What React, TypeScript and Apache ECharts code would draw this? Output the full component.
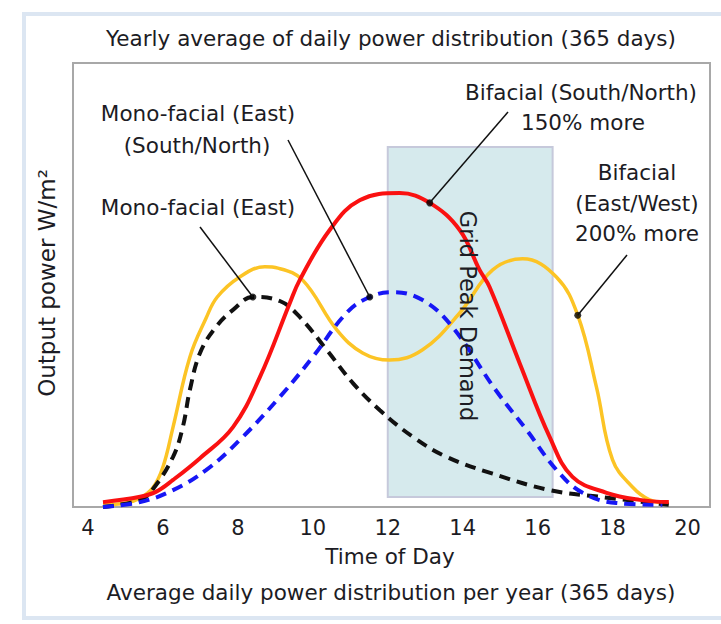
import React, { useEffect, useRef } from "react";
import * as echarts from "echarts";

// Hours (x) and relative output (y, 0-100)
const yellowHours = [4.4, 5.0, 5.39, 5.73, 6.0, 6.27, 6.72, 7.15, 7.45, 8.05, 8.72, 9.07, 9.73, 10.64, 11.33, 12.05, 12.93, 13.92, 14.8, 15.6, 16.5, 17.07, 17.57, 18.0, 18.53, 18.99, 19.5];
const yellowValues = [0.5, 0.9, 2.0, 4.3, 9.0, 18.0, 33.8, 42.5, 47.3, 51.8, 54.1, 53.8, 51.1, 39.9, 34.7, 33.1, 35.4, 43.7, 53.4, 55.9, 51.8, 43.2, 27.0, 10.6, 4.5, 1.6, 0.9];

const blackHours = [4.4, 5.39, 5.73, 6.27, 6.53, 6.72, 6.99, 7.41, 7.87, 8.4, 9.12, 9.65, 10.37, 11.07, 11.79, 12.67, 13.57, 14.8, 16.32, 17.65, 19.5];
const blackValues = [0, 1.6, 4.0, 11.3, 18.0, 26.4, 34.7, 40.5, 44.4, 47.3, 46.4, 42.8, 35.4, 27.9, 21.8, 15.8, 11.3, 7.5, 3.8, 2.3, 0.5];

const redHours = [4.4, 5.39, 5.81, 6.27, 6.99, 7.87, 8.59, 9.39, 9.65, 10.45, 11.25, 12.32, 13.12, 13.92, 14.45, 14.72, 15.52, 16.32, 16.93, 17.84, 18.72, 19.5];
const redValues = [1.1, 2.3, 3.4, 6.1, 11.0, 18.0, 29.3, 46.0, 51.1, 62.4, 69.1, 70.7, 68.5, 62.4, 53.4, 49.5, 32.4, 15.8, 6.8, 3.2, 1.6, 1.1];

const blueHours = [4.4, 5.39, 6.27, 7.15, 8.05, 9.12, 10.0, 10.9, 11.52, 12.13, 12.93, 13.73, 14.85, 15.71, 16.51, 17.2, 18.1, 19.33];
const blueValues = [0, 1.1, 3.8, 8.3, 15.1, 24.8, 33.8, 43.7, 47.3, 48.4, 46.6, 40.5, 26.7, 17.3, 8.3, 3.2, 0.9, 0.5];

const xTickLabels = [4, 6, 8, 10, 12, 14, 16, 18, 20];
const peakDemandHours = [12, 16.4];
const peakDemandLevels = [2.25, 81.1];

// marker indices (where the leader lines touch the curves)
const blackMarkerIdx = 9;
const blueMarkerIdx = 8;
const redMarkerIdx = 12;
const yellowMarkerIdx = 21;

const titleText = "Yearly average of daily power distribution (365 days)";
const xAxisTitle = "Time of Day";
const bottomText = "Average daily power distribution per year (365 days)";
const yAxisTitle = "Output power W/m²";
const peakText = "Grid Peak Demand";

const zip = (xs: number[], ys: number[]) => xs.map((x, i) => [x, ys[i]]);

const FONT = "'DejaVu Sans'";
const TXT = "#1c1c24";

export default function App() {
  const ref = useRef<HTMLDivElement>(null);
  useEffect(() => {
    if (!ref.current) return;
    const chart = echarts.init(ref.current, undefined, { renderer: "svg" });
    const yellow = zip(yellowHours, yellowValues);
    const black = zip(blackHours, blackValues);
    const red = zip(redHours, redValues);
    const blue = zip(blueHours, blueValues);
    const markers = [black[blackMarkerIdx], blue[blueMarkerIdx], red[redMarkerIdx], yellow[yellowMarkerIdx]];
    chart.setOption({
      animation: false,
      backgroundColor: "#ffffff",
      grid: {
        left: 73,
        top: 63,
        width: 637,
        height: 444,
        show: true,
        borderColor: "#a8a8a8",
        borderWidth: 2,
        backgroundColor: "#ffffff",
      },
      xAxis: {
        type: "value",
        min: 3.6,
        max: 20.6,
        axisLine: { show: false },
        axisTick: { show: false },
        splitLine: { show: false },
        axisLabel: {
          customValues: xTickLabels,
          fontSize: 21,
          fontFamily: "DejaVu Sans",
          color: TXT,
          margin: 10,
        },
      },
      yAxis: {
        type: "value",
        min: 0,
        max: 100,
        axisLine: { show: false },
        axisTick: { show: false },
        splitLine: { show: false },
        axisLabel: { show: false },
      },
      series: [
        {
          type: "line",
          data: [],
          silent: true,
          markArea: {
            silent: true,
            itemStyle: { color: "#d6eaed", borderColor: "#c6c9db", borderWidth: 2 },
            data: [[
              { coord: [peakDemandHours[0], peakDemandLevels[0]] },
              { coord: [peakDemandHours[1], peakDemandLevels[1]] },
            ]],
          },
        },
        {
          name: "Bifacial (East/West)",
          type: "line",
          data: yellow,
          smooth: 0.4,
          showSymbol: false,
          lineStyle: { color: "#fcc425", width: 3.5 },
        },
        {
          name: "Mono-facial (East)",
          type: "line",
          data: black,
          smooth: 0.4,
          showSymbol: false,
          lineStyle: { color: "#111111", width: 4, type: [11, 7] },
        },
        {
          name: "Mono-facial (South/North)",
          type: "line",
          data: blue,
          smooth: 0.4,
          showSymbol: false,
          lineStyle: { color: "#1717f5", width: 4, type: [11, 7] },
        },
        {
          name: "Bifacial (South/North)",
          type: "line",
          data: red,
          smooth: 0.4,
          showSymbol: false,
          lineStyle: { color: "#fa1111", width: 4 },
        },
        {
          type: "scatter",
          data: markers,
          symbolSize: 7,
          itemStyle: { color: "#000000" },
          z: 5,
        },
      ],
    });

    const px = (p: number[]) => chart.convertToPixel({ gridIndex: 0 }, p) as number[];
    const [bm, um, rm, ym] = markers.map(px);

    const text = (t: string, x: number, y: number, size = 21.5, extra: any = {}) => ({
      type: "text",
      x,
      y,
      z: 10,
      style: {
        text: t,
        fill: TXT,
        font: `${size}px ${FONT}`,
        textAlign: "center",
        textVerticalAlign: "middle",
      },
      ...extra,
    });
    const leader = (x1: number, y1: number, p: number[]) => ({
      type: "line",
      z: 9,
      shape: { x1, y1, x2: p[0], y2: p[1] },
      style: { stroke: "#111111", lineWidth: 1.5 },
    });

    chart.setOption({
      graphic: [
        {
          type: "rect",
          z: -1,
          shape: { x: 24, y: 14, width: 720, height: 604 },
          style: { fill: "none", stroke: "#dce6f2", lineWidth: 4 },
        },
        text(titleText, 391, 38),
        text(xAxisTitle, 390, 556),
        text(bottomText, 391, 592),
        text(yAxisTitle, 47, 283, 23, { rotation: Math.PI / 2 }),
        text(peakText, 468, 316, 22.5, { rotation: -Math.PI / 2 }),
        text("Mono-facial (East)", 198, 113),
        text("(South/North)", 197, 145),
        text("Mono-facial (East)", 198, 207),
        text("Bifacial (South/North)", 581, 92),
        text("150% more", 583, 122),
        text("Bifacial", 637, 172),
        text("(East/West)", 637, 203),
        text("200% more", 637, 233),
        leader(288, 140, um),
        leader(200, 227, bm),
        leader(508, 112, rm),
        leader(627, 255, ym),
      ],
    });
    return () => chart.dispose();
  }, []);
  return (
    <div
      ref={ref}
      style={{ position: "fixed", left: 0, top: 0, width: 721, height: 624 }}
    />
  );
}
